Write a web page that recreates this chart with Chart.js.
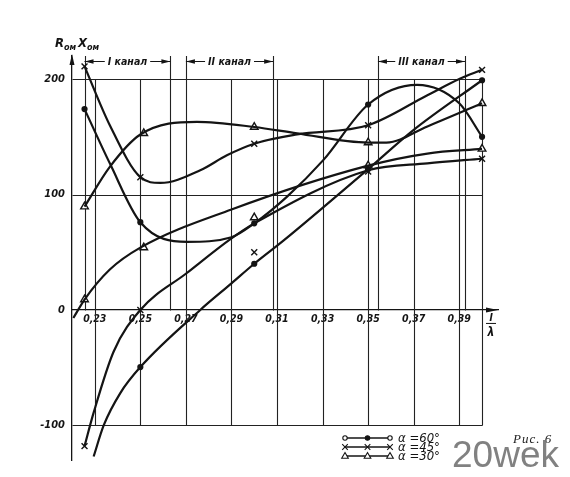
<!DOCTYPE html>
<html>
<head>
<meta charset="utf-8">
<script src="https://cdn.jsdelivr.net/npm/chart.js@4.4.0/dist/chart.umd.min.js"></script>
<style>
  html, body { margin: 0; padding: 0; background: #fff; }
  #wrap { position: relative; width: 570px; height: 477px; }
  #fig { position: absolute; left: 513px; top: 432px; font: italic 13px 'Liberation Serif', serif; line-height: 13px; letter-spacing: 1px; color: #222; }
  #mark { position: absolute; left: 452px; top: 436px; font: 37px 'Liberation Sans', Arial, sans-serif; line-height: 37px; color: rgba(115,115,115,0.9); }
</style>
</head>
<body>
<div id="wrap">
  <canvas id="chart" width="570" height="477"></canvas>
  <div id="fig">Рис. 6</div>
  <div id="mark">20wek</div>
</div>
<script>
// axes
const xTicks = [0.23, 0.25, 0.27, 0.29, 0.31, 0.33, 0.35, 0.37, 0.39];
const gridX = [0.23, 0.25, 0.27, 0.29, 0.31, 0.33, 0.35, 0.37, 0.39, 0.40];
const yTicks = [-100, 0, 100, 200];

// channel bands along the top
const channelStart = [0.2255, 0.27, 0.3543];
const channelEnd = [0.2632, 0.3083, 0.3925];
const channelNames = ['I канал', 'II канал', 'III канал'];
const legendNames = ['α =60°', 'α =45°', 'α =30°'];

// alpha = 60
const a60UpX = [0.2255, 0.2366, 0.25, 0.2705, 0.29, 0.30, 0.3143, 0.3304, 0.35, 0.3715, 0.39, 0.40];
const a60UpY = [174, 127, 76, 59, 63, 75, 98, 130, 178, 195, 179, 150];
const a60LowX = [0.2295, 0.2339, 0.2412, 0.25, 0.2763, 0.29, 0.30, 0.3128, 0.35, 0.37, 0.40];
const a60LowY = [-127, -100, -72, -49.5, 0, 23, 40, 60, 122, 156, 199];

// alpha = 45
const a45UpX = [0.2255, 0.2366, 0.25, 0.2588, 0.2763, 0.288, 0.30, 0.3188, 0.35, 0.376, 0.39, 0.40];
const a45UpY = [211, 160, 115, 110, 121, 134, 144, 152, 160, 186, 200, 208];
const a45LowX = [0.2255, 0.2295, 0.2383, 0.25, 0.2704, 0.29, 0.30, 0.35, 0.376, 0.40];
const a45LowY = [-118, -89, -36, 0, 32, 62, 75, 121, 127, 131];

// alpha = 30
const a30UpX = [0.2255, 0.2366, 0.25, 0.2748, 0.30, 0.3188, 0.35, 0.358, 0.376, 0.40];
const a30UpY = [89.5, 124, 152, 163, 158.5, 153, 145, 145, 159, 179];
const a30LowX = [0.2206, 0.2255, 0.2366, 0.25, 0.29, 0.35, 0.376, 0.40];
const a30LowY = [-7, 9, 35, 54, 87, 125, 135.5, 139.5];

// measured points (markers)
const m60X = [0.2255, 0.25, 0.30, 0.35, 0.40, 0.25, 0.30, 0.35, 0.40];
const m60Y = [174, 76, 75, 178, 150, -49.5, 40, 122, 199];
const m45X = [0.2255, 0.25, 0.30, 0.35, 0.40, 0.2255, 0.25, 0.30, 0.35, 0.40];
const m45Y = [211, 115, 144, 160, 208, -118, 0, 50, 120, 131];
const m30X = [0.2255, 0.2515, 0.30, 0.35, 0.40, 0.2255, 0.2515, 0.30, 0.35, 0.40];
const m30Y = [89.5, 153, 158.5, 145, 179, 9, 54, 80, 125, 139.5];

const ink = '#141414';
const fontFam = "'DejaVu Sans Condensed', 'DejaVu Sans', sans-serif";

function pts(xs, ys) {
  return xs.map((v, i) => ({ x: v, y: ys[i] }));
}

function curve(xs, ys) {
  return {
    data: pts(xs, ys),
    borderColor: ink,
    borderWidth: 2.2,
    pointRadius: 0,
    cubicInterpolationMode: 'monotone',
    fill: false
  };
}

function markers(xs, ys, style, r, bg) {
  return {
    data: pts(xs, ys),
    showLine: false,
    pointStyle: style,
    pointRadius: r,
    pointBorderWidth: 1.4,
    pointBorderColor: ink,
    pointBackgroundColor: bg
  };
}

// little marker drawer for the legend
function drawMark(ctx, kind, x, y, open) {
  ctx.beginPath();
  if (kind === 0) {
    ctx.arc(x, y, 2.2, 0, Math.PI * 2);
    ctx.fillStyle = open ? '#fff' : ink;
    ctx.fill();
    ctx.stroke();
  } else if (kind === 1) {
    ctx.moveTo(x - 2.8, y - 2.8); ctx.lineTo(x + 2.8, y + 2.8);
    ctx.moveTo(x - 2.8, y + 2.8); ctx.lineTo(x + 2.8, y - 2.8);
    ctx.stroke();
  } else {
    ctx.moveTo(x, y - 3.5); ctx.lineTo(x + 3.3, y + 2.3); ctx.lineTo(x - 3.3, y + 2.3); ctx.closePath();
    ctx.fillStyle = '#fff';
    ctx.fill();
    ctx.stroke();
  }
}

const sheet = {
  id: 'sheet',
  beforeDatasetsDraw(chart) {
    const { ctx, chartArea: a, scales: { x, y } } = chart;
    const px = v => Math.round(x.getPixelForValue(v)) + 0.5;
    const py = v => Math.round(y.getPixelForValue(v)) + 0.5;
    const yTop = Math.max(...yTicks), yBot = Math.min(...yTicks);
    ctx.save();
    ctx.strokeStyle = '#222';
    ctx.lineWidth = 1.1;
    ctx.beginPath();
    yTicks.forEach(v => {
      if (v === 0) return;
      ctx.moveTo(px(x.min), py(v));
      ctx.lineTo(px(gridX[gridX.length - 1]), py(v));
    });
    gridX.forEach(v => {
      ctx.moveTo(px(v), py(yTop));
      ctx.lineTo(px(v), py(yBot));
    });
    channelStart.concat(channelEnd).forEach(v => {
      ctx.moveTo(px(v), a.top);
      ctx.lineTo(px(v), py(0));
    });
    ctx.stroke();
    ctx.restore();
  },
  afterDraw(chart) {
    const { ctx, chartArea: a, scales: { x, y } } = chart;
    const x0 = x.getPixelForValue(x.min);
    const y0 = y.getPixelForValue(0);
    ctx.save();
    ctx.fillStyle = ink;
    ctx.strokeStyle = ink;

    // axis arrow heads
    ctx.beginPath();
    ctx.moveTo(x0, a.top - 2); ctx.lineTo(x0 - 2.5, a.top + 9); ctx.lineTo(x0 + 2.5, a.top + 9);
    ctx.fill();
    ctx.beginPath();
    ctx.moveTo(a.right, y0); ctx.lineTo(a.right - 12, y0 - 2.5); ctx.lineTo(a.right - 12, y0 + 2.5);
    ctx.fill();

    // channel arrows
    const ay = Math.round(y.getPixelForValue(215.5)) + 0.5;
    ctx.font = 'italic bold 10.5px ' + fontFam;
    ctx.textAlign = 'center';
    ctx.textBaseline = 'middle';
    channelStart.forEach((s, i) => {
      const p1 = x.getPixelForValue(s), p2 = x.getPixelForValue(channelEnd[i]);
      ctx.lineWidth = 1.2;
      ctx.beginPath();
      ctx.moveTo(p1, ay); ctx.lineTo(p2, ay);
      ctx.stroke();
      ctx.beginPath();
      ctx.moveTo(p1, ay); ctx.lineTo(p1 + 9, ay - 2.3); ctx.lineTo(p1 + 9, ay + 2.3);
      ctx.moveTo(p2, ay); ctx.lineTo(p2 - 9, ay - 2.3); ctx.lineTo(p2 - 9, ay + 2.3);
      ctx.fill();
      const mid = (p1 + p2) / 2;
      const w = ctx.measureText(channelNames[i]).width;
      ctx.fillStyle = '#fff';
      ctx.fillRect(mid - w / 2 - 3, ay - 6, w + 6, 12);
      ctx.fillStyle = ink;
      ctx.fillText(channelNames[i], mid, ay + 1);
    });

    // axis titles
    ctx.textAlign = 'left';
    ctx.textBaseline = 'alphabetic';
    ctx.font = 'italic bold 13px ' + fontFam;
    ctx.fillText('R', 55, 47);
    ctx.fillText('X', 78, 47);
    ctx.font = 'italic bold 9px ' + fontFam;
    ctx.fillText('ом', 64, 50);
    ctx.fillText('ом', 87, 50);

    ctx.textAlign = 'center';
    ctx.font = 'italic bold 11px ' + fontFam;
    ctx.fillText('l', a.right - 7, y0 + 11);
    ctx.lineWidth = 1;
    ctx.beginPath();
    ctx.moveTo(a.right - 12, y0 + 13.5); ctx.lineTo(a.right - 2, y0 + 13.5);
    ctx.stroke();
    ctx.font = 'italic bold 12px ' + fontFam;
    ctx.fillText('λ', a.right - 7, y0 + 26);

    // legend
    const lx0 = 345, lx1 = 390, rows = [438, 447, 456];
    ctx.font = 'italic 13px ' + fontFam;
    ctx.textAlign = 'left';
    ctx.textBaseline = 'middle';
    legendNames.forEach((name, i) => {
      const ly = rows[i];
      ctx.strokeStyle = ink;
      ctx.lineWidth = 1.6;
      ctx.beginPath();
      ctx.moveTo(lx0, ly); ctx.lineTo(lx1, ly);
      ctx.stroke();
      ctx.lineWidth = 1.1;
      [lx0, (lx0 + lx1) / 2, lx1].forEach((mx, j) => drawMark(ctx, i, mx, ly, j !== 1));
      ctx.fillStyle = ink;
      ctx.fillText(name, 398, ly + 0.5);
    });
    ctx.restore();
  }
};

new Chart(document.getElementById('chart'), {
  type: 'line',
  data: {
    datasets: [
      curve(a60UpX, a60UpY),
      curve(a60LowX, a60LowY),
      curve(a45UpX, a45UpY),
      curve(a45LowX, a45LowY),
      curve(a30UpX, a30UpY),
      curve(a30LowX, a30LowY),
      markers(m60X, m60Y, 'circle', 2.4, ink),
      markers(m45X, m45Y, 'crossRot', 4.2, ink),
      markers(m30X, m30Y, 'triangle', 4.4, '#fff')
    ]
  },
  options: {
    responsive: false,
    animation: false,
    events: [],
    layout: { padding: { left: 36, top: 56, right: 72, bottom: 17 } },
    plugins: { legend: { display: false }, tooltip: { enabled: false } },
    scales: {
      x: {
        type: 'linear',
        min: 0.22,
        max: 0.407,
        position: { y: 0 },
        afterBuildTicks: s => { s.ticks = xTicks.map(v => ({ value: v })); },
        grid: { display: false, drawTicks: false },
        border: { display: true, color: ink, width: 1.3 },
        ticks: {
          padding: 3,
          autoSkip: false,
          maxRotation: 0,
          color: ink,
          font: { family: fontFam, style: 'italic', weight: 'bold', size: 10.5 },
          callback: v => v.toFixed(2).replace('.', ',')
        }
      },
      y: {
        min: -130,
        max: 220,
        afterBuildTicks: s => { s.ticks = yTicks.map(v => ({ value: v })); },
        afterFit: s => { s.width = 36; },
        grid: { display: false, drawTicks: false },
        border: { display: true, color: ink, width: 1.3 },
        ticks: {
          padding: 7,
          color: ink,
          font: { family: fontFam, style: 'italic', weight: 'bold', size: 11 },
          callback: v => String(v)
        }
      }
    }
  },
  plugins: [sheet]
});
</script>
</body>
</html>
